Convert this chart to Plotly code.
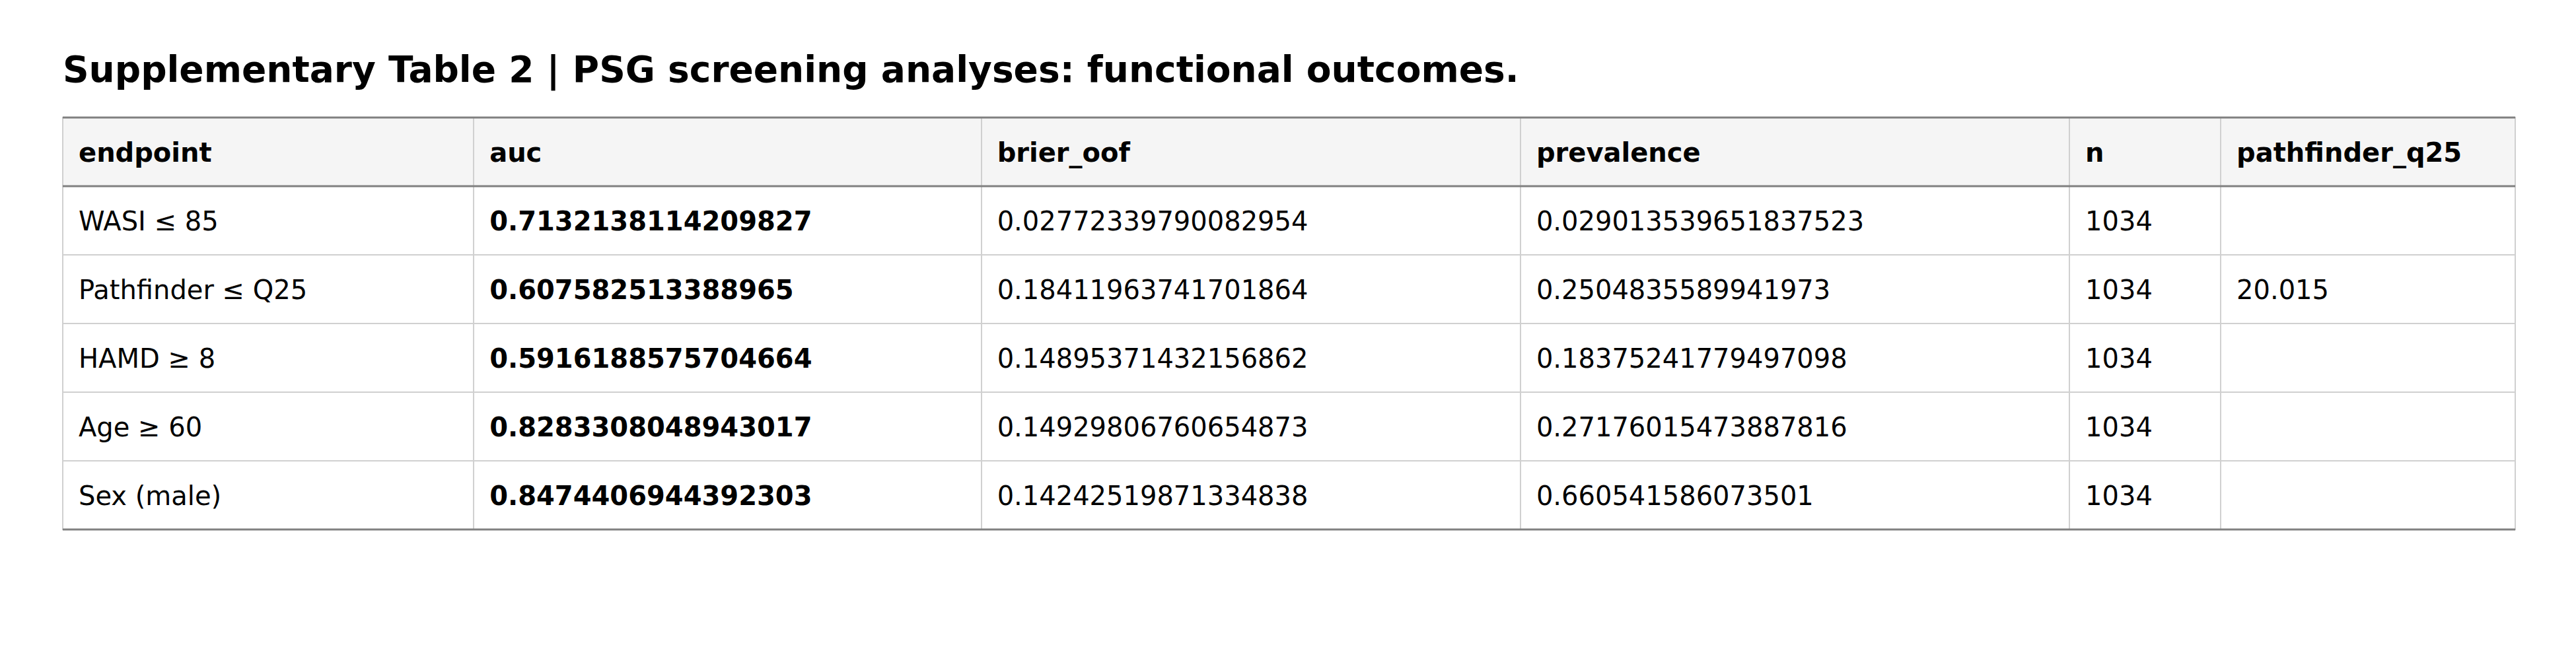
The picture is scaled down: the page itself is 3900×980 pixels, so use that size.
import plotly.graph_objects as go

# Table contents
title = "Supplementary Table 2 | PSG screening analyses: functional outcomes."
columns = ["endpoint", "auc", "brier_oof", "prevalence", "n", "pathfinder_q25"]
endpoint = ["WASI ≤ 85", "Pathfinder ≤ Q25", "HAMD ≥ 8", "Age ≥ 60", "Sex (male)"]
auc = ["0.7132138114209827", "0.607582513388965", "0.5916188575704664",
       "0.8283308048943017", "0.8474406944392303"]
brier_oof = ["0.02772339790082954", "0.18411963741701864", "0.14895371432156862",
             "0.14929806760654873", "0.14242519871334838"]
prevalence = ["0.029013539651837523", "0.2504835589941973", "0.18375241779497098",
              "0.27176015473887816", "0.660541586073501"]
n = ["1034", "1034", "1034", "1034", "1034"]
pathfinder_q25 = ["", "20.015", "", "", ""]

W, H = 3900, 980
col_widths = [625, 772, 820, 835, 230, 448]
left, right = 87, 3800
top = 170            # px from top of plot area
head_h, row_h = 104, 104
text_shift = 29      # push text down so it sits mid-cell
text_indent = 16     # extra left padding for the text

cell_vals = [endpoint, auc, brier_oof, prevalence, n, pathfinder_q25]
cell_weight = [400, 700, 400, 400, 400, 400]

fam = "DejaVu Sans"
dom_x = [left / W, right / W]

fig = go.Figure()
# grid + fills, no text
fig.add_trace(go.Table(
    domain=dict(x=dom_x, y=[0, 1 - top / H]),
    columnwidth=col_widths,
    header=dict(values=[""] * len(columns), height=head_h, fill_color="#f5f5f5",
                line=dict(color="#d0d0d0", width=2)),
    cells=dict(values=[[""] * len(endpoint)] * len(columns), height=row_h, fill_color="white",
               line=dict(color="#d0d0d0", width=2)),
))
# text layer, shifted down and right
fig.add_trace(go.Table(
    domain=dict(x=[(left + text_indent) / W, (right + text_indent) / W],
                y=[0, 1 - (top + text_shift) / H]),
    columnwidth=col_widths,
    header=dict(values=columns, height=head_h, fill_color="rgba(0,0,0,0)",
                line=dict(color="rgba(0,0,0,0)", width=0), align="left",
                font=dict(family=fam, size=40, color="black", weight=700)),
    cells=dict(values=cell_vals, height=row_h, fill_color="rgba(0,0,0,0)",
               line=dict(color="rgba(0,0,0,0)", width=0), align="left",
               font=dict(family=fam, size=40, color="black", weight=cell_weight)),
))

# darker rules: top, under header, bottom
for yy in [top, top + head_h, top + head_h + row_h * len(endpoint)]:
    fig.add_shape(type="line", xref="paper", yref="paper",
                  x0=left / W, x1=right / W, y0=1 - yy / H, y1=1 - yy / H,
                  line=dict(color="#808080", width=3))

fig.update_layout(
    width=W, height=H,
    margin=dict(l=0, r=0, t=0, b=0),
    paper_bgcolor="white",
    title=dict(text="<b>%s</b>" % title, x=left / W, xanchor="left",
               y=1 - 97 / H, yanchor="middle",
               font=dict(family=fam, size=55, color="black")),
)
fig.write_html("out.html")
